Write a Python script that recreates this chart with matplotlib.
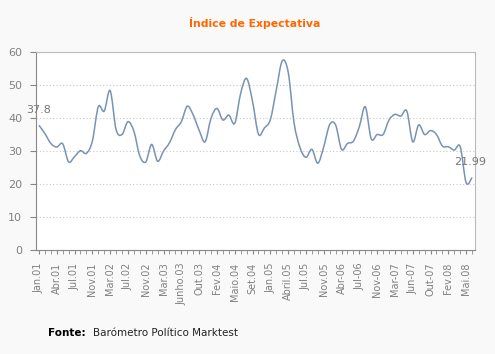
import numpy as np
import matplotlib
matplotlib.use("Agg")
from matplotlib import pyplot as plt
from matplotlib.path import Path
from matplotlib.patches import PathPatch

# one survey per category, labels on every third one
values = [37.8, 35.3, 32.3, 31.2, 32.2, 26.7, 28.3, 30.1, 29.3, 33.0,
          43.4, 42.1, 48.3, 36.5, 35.0, 38.9, 36.0, 28.5, 26.7, 32.0,
          26.9, 30.0, 32.5, 36.5, 38.9, 43.6, 40.9, 36.3, 32.8, 39.9,
          42.9, 39.4, 40.9, 38.4, 47.5, 52.0, 45.0, 35.1, 37.0, 39.5,
          48.5, 57.3, 54.0, 38.5, 31.0, 28.1, 30.5, 26.3, 31.3, 38.0,
          37.9, 30.5, 32.3, 33.0, 37.4, 43.4, 33.7, 35.0, 35.0, 39.4,
          41.1, 40.6, 42.1, 32.8, 37.9, 35.0, 36.2, 35.0, 31.5, 31.3,
          30.3, 31.3, 20.4, 21.99]

tick_labels = ["Jan.01", "Abr.01", "Jul.01", "Nov.01", "Mar.02", "Jul.02",
               "Nov.02", "Mar.03", "Junho.03", "Out.03", "Fev.04", "Maio.04",
               "Set.04", "Jan.05", "Abril.05", "Jul.05", "Nov.05", "Abr-06",
               "Jul-06", "Nov-06", "Mar-07", "Jun-07", "Out-07", "Fev.08",
               "Mai.08"]

x = np.arange(len(values))
y = np.array(values)

fig = plt.figure(figsize=(4.95, 3.54), dpi=100)
fig.patch.set_facecolor("#f9f9f9")
ax = fig.add_axes([0.0727, 0.2938, 0.887, 0.5592])
ax.set_facecolor("white")

# smooth line: catmull-rom segments as bezier curves
verts = [(x[0], y[0])]
codes = [Path.MOVETO]
n = len(x)
for i in range(n - 1):
    p0 = i - 1 if i > 0 else i
    p3 = i + 2 if i + 2 < n else i + 1
    c1 = (x[i] + (x[i + 1] - x[p0]) / 6, y[i] + (y[i + 1] - y[p0]) / 6)
    c2 = (x[i + 1] - (x[p3] - x[i]) / 6, y[i + 1] - (y[p3] - y[i]) / 6)
    verts += [c1, c2, (x[i + 1], y[i + 1])]
    codes += [Path.CURVE4] * 3
ax.add_patch(PathPatch(Path(verts, codes), facecolor="none",
                       edgecolor="#7893b4", lw=1.1, zorder=3))

ax.set_xlim(-0.5, n - 0.5)
ax.set_ylim(0, 60)
ax.set_yticks(range(0, 61, 10))
ax.yaxis.grid(True, linestyle=(0, (1, 2)), color="#c8c8c8", lw=0.8)
ax.set_axisbelow(True)

ax.set_xticks(x[::3])
ax.set_xticklabels(tick_labels, rotation=90)
ax.set_xticks(x, minor=True)
ax.tick_params(axis="x", which="both", length=3, color="#888888",
               labelsize=7, labelcolor="#808080", pad=6)
ax.tick_params(axis="y", length=4, color="#888888", labelsize=8,
               labelcolor="#808080", pad=6)

for s in ["left", "bottom"]:
    ax.spines[s].set_color("#888888")
for s in ["top", "right"]:
    ax.spines[s].set_color("#bbbbbb")

ax.text(x[0], y[0] + 3, "37.8", ha="center", va="bottom", fontsize=8,
        color="#777777", zorder=4)
ax.text(x[-1] - 0.3, y[-1] + 3.3, "21.99", ha="center", va="bottom",
        fontsize=8, color="#777777", zorder=4)

fig.text(0.515, 0.935, "Índice de Expectativa", ha="center", va="center",
         fontsize=7.8, fontweight="bold", color="#ff6600")
fig.text(0.097, 0.06, "Fonte:", ha="left", va="center", fontsize=7.5,
         fontweight="bold", color="black")
fig.text(0.188, 0.06, "Barómetro Político Marktest", ha="left",
         va="center", fontsize=7.5, color="#222222")

fig.savefig("out.png", dpi=100, facecolor=fig.get_facecolor())
